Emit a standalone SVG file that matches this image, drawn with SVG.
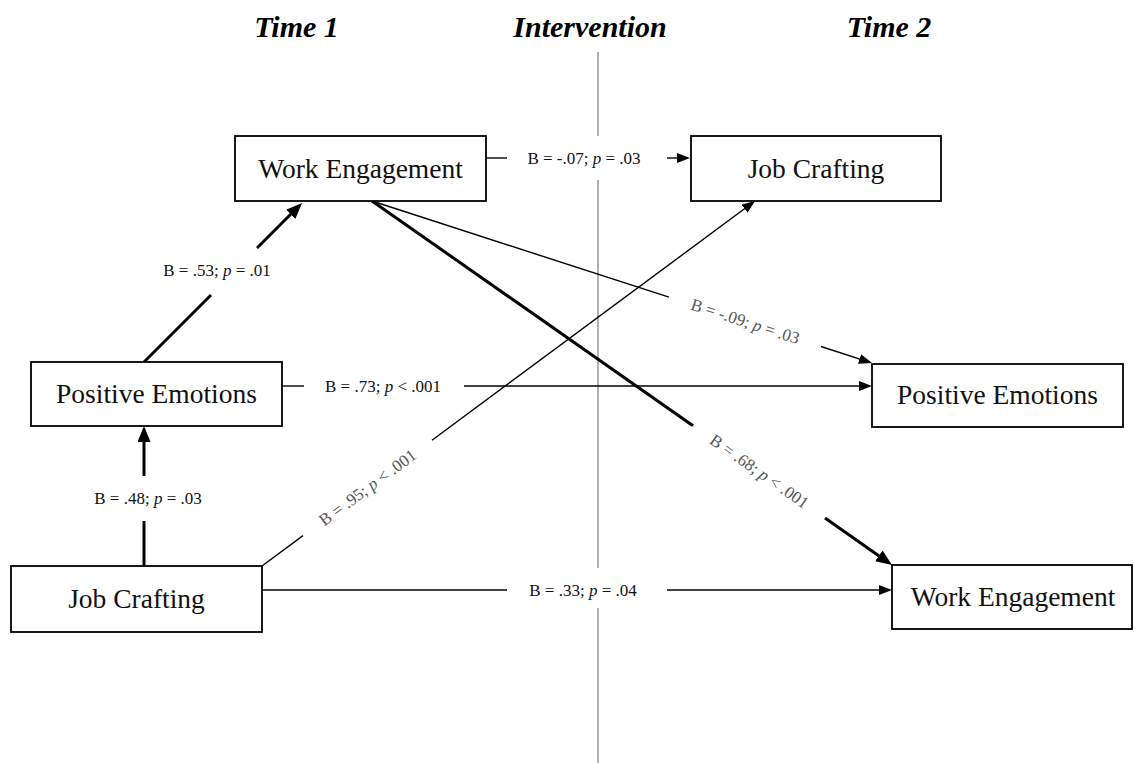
<svg xmlns="http://www.w3.org/2000/svg" width="1134" height="763" viewBox="0 0 1134 763">
<style>
.title{font-family:"Liberation Serif","Times New Roman",serif;font-size:30px;font-weight:bold;font-style:italic;fill:#000;text-anchor:middle}
.box{fill:#fff;stroke:#000;stroke-width:1.8}
.nt{font-family:"Liberation Serif","Times New Roman",serif;font-size:27.5px;fill:#111;text-anchor:middle}
.lbl{font-family:"Liberation Serif","Times New Roman",serif;font-size:17px;fill:#111;text-anchor:middle}
.rl{font-family:"Liberation Serif","Times New Roman",serif;font-size:17px;fill:#555;text-anchor:middle}
.thin{fill:none;stroke:#000;stroke-width:1.4}
.thick{fill:none;stroke:#000;stroke-width:3}
.vline{fill:none;stroke:#888;stroke-width:1.3}
</style>
<defs>
<marker id="ahThin" markerUnits="userSpaceOnUse" markerWidth="14" markerHeight="11" refX="10" refY="5" orient="auto"><path d="M0,0 L13,5 L0,10 z" fill="#000"/></marker>
<marker id="ahThick" markerUnits="userSpaceOnUse" markerWidth="17" markerHeight="14" refX="12" refY="6.5" orient="auto"><path d="M0,0 L16,6.5 L0,13 z" fill="#000"/></marker>
</defs>
<rect width="1134" height="763" fill="#fff"/>
<g id="titles">
<text class="title" x="296.5" y="37">Time 1</text>
<text class="title" x="590" y="37">Intervention</text>
<text class="title" x="889" y="37">Time 2</text>
</g>
<g id="divider">
<path class="vline" d="M598,52 V136 M598,180 V568 M598,608 V763"/>
</g>
<g id="connectors">
<!-- WE1 -> JC2 -->
<path class="thin" d="M486,158 H507"/>
<path class="thin" d="M667,158 H687" marker-end="url(#ahThin)"/>
<text class="lbl" x="584" y="164">B = -.07; <tspan font-style="italic">p</tspan> = .03</text>
<!-- PE1 -> WE1 -->
<path class="thick" d="M144,362 L211,295"/>
<path class="thick" d="M257,248 L299.2,205.8" marker-end="url(#ahThick)"/>
<text class="lbl" x="217" y="276">B = .53; <tspan font-style="italic">p</tspan> = .01</text>
<!-- PE1 -> PE2 -->
<path class="thin" d="M282,386 H304"/>
<path class="thin" d="M464,386 H869" marker-end="url(#ahThin)"/>
<text class="lbl" x="383" y="392">B = .73; <tspan font-style="italic">p</tspan> &lt; .001</text>
<!-- JC1 -> PE1 -->
<path class="thick" d="M144,566 V521"/>
<path class="thick" d="M144,476 V430" marker-end="url(#ahThick)"/>
<text class="lbl" x="148" y="504">B = .48; <tspan font-style="italic">p</tspan> = .03</text>
<!-- JC1 -> WE2 -->
<path class="thin" d="M262,590 H507"/>
<path class="thin" d="M667,590 H889" marker-end="url(#ahThin)"/>
<text class="lbl" x="583" y="596">B = .33; <tspan font-style="italic">p</tspan> = .04</text>
<!-- JC1 -> JC2 -->
<path class="thin" d="M262,566 L303,535.6"/>
<path class="thin" d="M432,440.2 L752.6,202.8" marker-end="url(#ahThin)"/>
<text class="rl" transform="translate(368,488) rotate(-36.5)" x="0" y="5">B = .95; <tspan font-style="italic">p</tspan> &lt; .001</text>
<!-- WE1 -> WE2 -->
<path class="thick" d="M372,201 L693,425.7"/>
<path class="thick" d="M825,518 L888.7,562.7" marker-end="url(#ahThick)"/>
<text class="rl" transform="translate(759,472) rotate(35)" x="0" y="5">B = .68; <tspan font-style="italic">p</tspan> &lt; .001</text>
<!-- WE1 -> PE2 -->
<path class="thin" d="M372,201 L669,297.2"/>
<path class="thin" d="M821,346.5 L869.1,362.1" marker-end="url(#ahThin)"/>
<text class="rl" transform="translate(745,322) rotate(18)" x="0" y="5">B = -.09; <tspan font-style="italic">p</tspan> = .03</text>
</g>
<g id="we1">
<rect class="box" x="235" y="136" width="251" height="65"/>
<text class="nt" x="360.5" y="178">Work Engagement</text>
</g>
<g id="pe1">
<rect class="box" x="31" y="362" width="251" height="64"/>
<text class="nt" x="156.5" y="403">Positive Emotions</text>
</g>
<g id="jc1">
<rect class="box" x="11" y="566" width="251" height="66"/>
<text class="nt" x="136.5" y="608">Job Crafting</text>
</g>
<g id="jc2">
<rect class="box" x="691" y="136" width="250" height="65"/>
<text class="nt" x="816" y="178">Job Crafting</text>
</g>
<g id="pe2">
<rect class="box" x="872" y="364" width="251" height="63"/>
<text class="nt" x="997.5" y="404">Positive Emotions</text>
</g>
<g id="we2">
<rect class="box" x="892" y="565" width="240" height="64"/>
<text class="nt" x="1013" y="606">Work Engagement</text>
</g>
</svg>
